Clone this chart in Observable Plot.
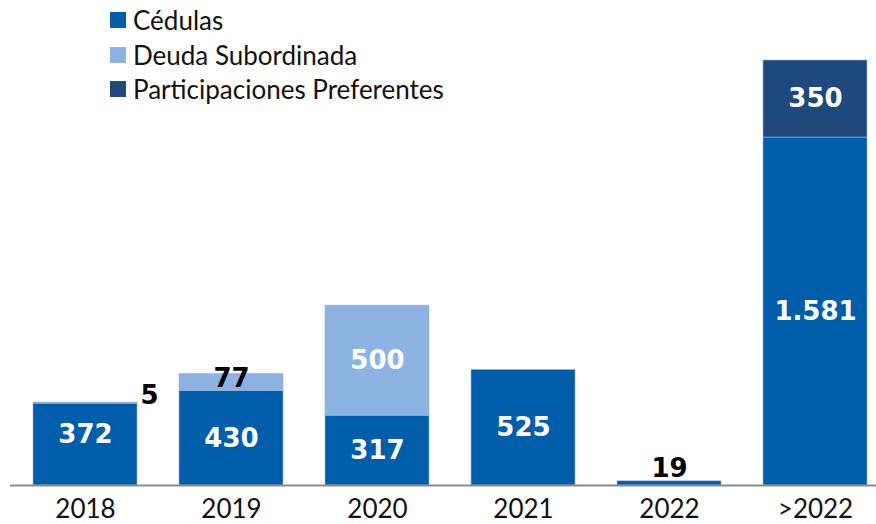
<!DOCTYPE html>
<html>
<head>
<meta charset="utf-8">
<script src="https://cdn.jsdelivr.net/npm/d3@7"></script>
<script src="https://cdn.jsdelivr.net/npm/@observablehq/plot@0.6"></script>
<style>
  html, body { margin: 0; padding: 0; background: #fff; }
  #wrap { position: relative; width: 876px; height: 524px; font-family: Lato, "Liberation Sans", sans-serif; }
  #legend { position: absolute; left: 110px; top: 3px; }
  .item { display: flex; align-items: center; height: 34.5px; font-size: 26px; color: #111; }
  .sw { width: 16px; height: 16px; margin-right: 7px; }
</style>
</head>
<body>
<div id="wrap"><div id="legend"></div></div>
<script>
const categories = ["2018", "2019", "2020", "2021", "2022", ">2022"];
const series = ["Cédulas", "Deuda Subordinada", "Participaciones Preferentes"];
const cedulas = [372, 430, 317, 525, 19, 1581];
const deudaSubordinada = [5, 77, 500, 0, 0, 0];
const participaciones = [0, 0, 0, 0, 0, 350];
const colors = ["#005DAA", "#8DB3E2", "#1F497D"];

const values = [cedulas, deudaSubordinada, participaciones];
const rows = [];
categories.forEach((c, i) => {
  let base = 0;
  series.forEach((s, k) => {
    const v = values[k][i];
    rows.push({category: c, series: s, value: v, y1: base, y2: base + v});
    base += v;
  });
});
const bars = rows.filter(d => d.value > 0);

const fmt = d3.formatLocale({decimal: ",", thousands: ".", grouping: [3], currency: ["", " €"]}).format(",");

const inside = bars.filter(d => d.value >= 100);
const labelFont = {fontFamily: "'DejaVu Sans', sans-serif", fontWeight: "bold", fontSize: 26};
const mid = d => (d.y1 + d.y2) / 2;

const chart = Plot.plot({
  width: 876,
  height: 524,
  marginTop: 60,
  marginBottom: 39,
  marginLeft: 23,
  marginRight: 0,
  style: {fontFamily: "Lato, 'Liberation Sans', sans-serif", background: "transparent"},
  x: {domain: categories, paddingInner: 0.29, paddingOuter: 0.054, label: null},
  y: {domain: [0, d3.max(categories, (c, i) => cedulas[i] + deudaSubordinada[i] + participaciones[i])], axis: null},
  color: {domain: series, range: colors},
  marks: [
    Plot.barY(bars, {x: "category", y1: "y1", y2: "y2", fill: "series", stroke: "#9fb3cb", strokeWidth: 0.6}),
    Plot.ruleY([0], {stroke: "#8a8a8a", strokeWidth: 2, insetLeft: -13}),
    Plot.axisX({tickSize: 0, tickPadding: 14, fontSize: 26, fill: "#111", label: null}),
    Plot.text(inside.filter(d => d.category !== "2018"), {x: "category", y: mid, text: d => fmt(d.value), fill: "white", ...labelFont}),
    Plot.text(inside.filter(d => d.category === "2018"), {x: "category", y: mid, text: d => fmt(d.value), fill: "white", dy: -10, ...labelFont}),
    Plot.text(bars.filter(d => d.category === "2018" && d.series === "Deuda Subordinada"),
      {x: "category", y: "y2", text: d => fmt(d.value), fill: "#000", dx: 64, dy: -7, ...labelFont}),
    Plot.text(bars.filter(d => d.category === "2019" && d.series === "Deuda Subordinada"),
      {x: "category", y: "y2", text: d => fmt(d.value), fill: "#000", dy: 5, ...labelFont}),
    Plot.text(bars.filter(d => d.category === "2022"),
      {x: "category", y: "y2", text: d => fmt(d.value), fill: "#000", dy: -13, ...labelFont})
  ]
});
document.getElementById("wrap").prepend(chart);

const legend = document.getElementById("legend");
series.forEach((s, k) => {
  const item = document.createElement("div");
  item.className = "item";
  const sw = document.createElement("span");
  sw.className = "sw";
  sw.style.background = colors[k];
  const t = document.createElement("span");
  t.textContent = s;
  item.append(sw, t);
  legend.append(item);
});
</script>
</body>
</html>
